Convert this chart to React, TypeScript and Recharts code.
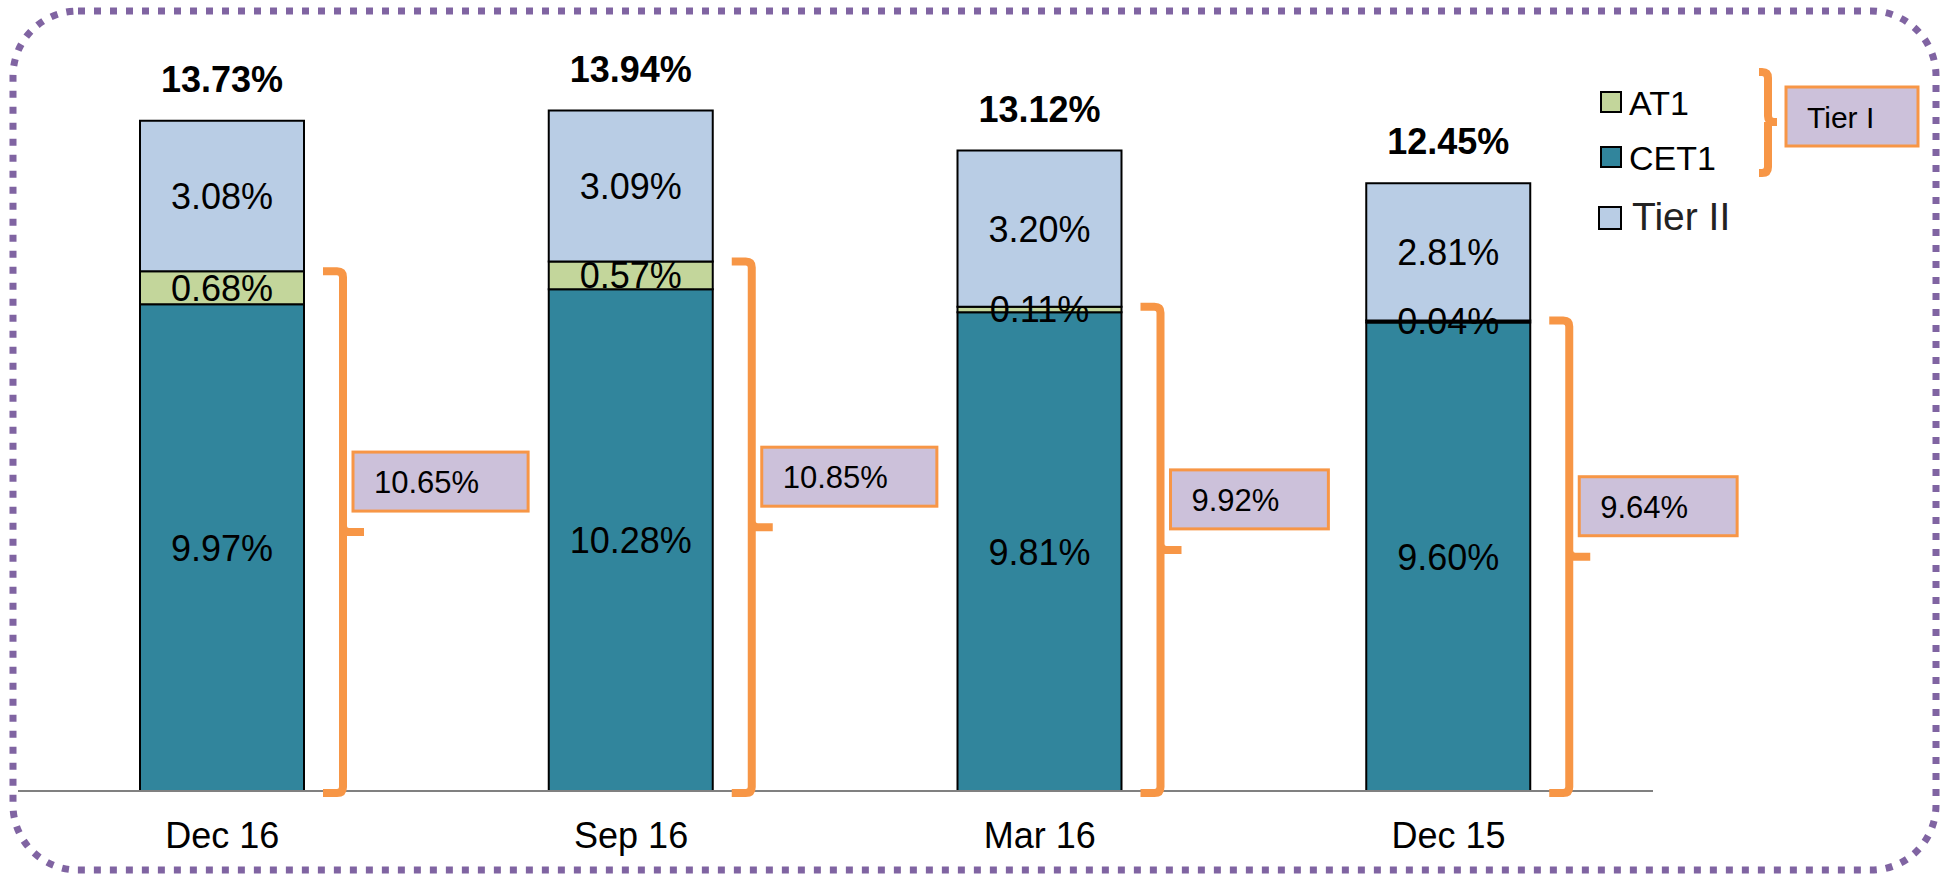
import React from 'react';
import { BarChart, Bar, XAxis, YAxis, LabelList, Legend } from 'recharts';

const categories = ['Dec 16', 'Sep 16', 'Mar 16', 'Dec 15'];
const cet1 = [9.97, 10.28, 9.81, 9.6];
const at1 = [0.68, 0.57, 0.11, 0.04];
const tier2 = [3.08, 3.09, 3.2, 2.81];

const legendOrder = ['AT1', 'CET1', 'Tier II'];

const COLORS: Record<string, string> = {
  CET1: '#31859C',
  AT1: '#C3D69B',
  'Tier II': '#B9CDE5',
};
const ORANGE = '#F79646';
const FONT = '"Liberation Sans", Arial, sans-serif';

const data = categories.map((name, i) => ({
  name,
  CET1: cet1[i],
  AT1: at1[i],
  'Tier II': tier2[i],
}));

const pct = (v: number) => `${v.toFixed(2)}%`;

// rough Arial widths, used to size the Tier I boxes
const textWidth = (s: string, size: number) =>
  s.split('').reduce((w, c) => w + (c === '.' ? 0.278 : c === '%' ? 0.889 : 0.556), 0) * size;

const getBox = (props: any) => {
  const vb = props.viewBox ?? props;
  return { x: +vb.x, y: +vb.y, width: +vb.width, height: +vb.height };
};

const CenterLabel = (props: any) => {
  const { x, y, width, height } = getBox(props);
  return (
    <text
      x={x + width / 2}
      y={y + height / 2}
      dy="0.36em"
      textAnchor="middle"
      fontSize={36}
      fontFamily={FONT}
      fill="#000"
    >
      {pct(Number(props.value))}
    </text>
  );
};

const TotalLabel = (props: any) => {
  const { x, y, width } = getBox(props);
  const i = props.index;
  return (
    <text
      x={x + width / 2}
      y={y - 29}
      textAnchor="middle"
      fontSize={36}
      fontWeight="bold"
      fontFamily={FONT}
      fill="#000"
    >
      {pct(cet1[i] + at1[i] + tier2[i])}
    </text>
  );
};

// "}" bracket spanning CET1 + AT1 with a Tier I value box
const TierOneBracket = (props: any) => {
  const { x, y, width, height } = getBox(props);
  const i = props.index;
  const perUnit = height / cet1[i];
  const top = y - at1[i] * perUnit;
  const bottom = y + height + 2;
  const bx = x + width + 39;
  const mid = (top + bottom) / 2;
  const label = pct(cet1[i] + at1[i]);
  const boxW = textWidth(label, 31) + 70;
  const boxX = bx + 10;
  const boxY = mid - 80;
  return (
    <g>
      <path
        d={`M${bx - 20},${top} L${bx - 6},${top} Q${bx},${top} ${bx},${top + 6} L${bx},${bottom - 6} Q${bx},${bottom} ${bx - 6},${bottom} L${bx - 20},${bottom} M${bx},${mid - 6} Q${bx},${mid} ${bx + 6},${mid} L${bx + 21},${mid}`}
        fill="none"
        stroke={ORANGE}
        strokeWidth={8}
      />
      <rect x={boxX} y={boxY} width={boxW} height={59} fill="#CCC1DA" stroke={ORANGE} strokeWidth={3} />
      <text x={boxX + 21} y={boxY + 41} fontSize={31} fontFamily={FONT} fill="#000">
        {label}
      </text>
    </g>
  );
};

const LegendContent = () => {
  const rows = [
    { sq: [11, 32, 20], tx: [39, 55], size: 34 },
    { sq: [11, 87, 20], tx: [39, 110], size: 34 },
    { sq: [9, 147, 22], tx: [42, 170], size: 39 },
  ];
  return (
    <svg width={340} height={180} style={{ display: 'block' }}>
      {legendOrder.map((key, i) => {
        const r = rows[i];
        return (
          <g key={key}>
            <rect x={r.sq[0]} y={r.sq[1]} width={r.sq[2]} height={r.sq[2]} fill={COLORS[key]} stroke="#000" strokeWidth={2} />
            <text x={r.tx[0]} y={r.tx[1]} fontSize={r.size} fontFamily={FONT} fill={key === 'Tier II' ? '#222' : '#000'}>
              {key}
            </text>
          </g>
        );
      })}
      <path
        d="M169,12 L172,12 Q178,12 178,18 L178,56 Q178,62 184,62 L187,62 M178,62 L178,107 Q178,113 172,113 L169,113"
        fill="none"
        stroke={ORANGE}
        strokeWidth={8}
      />
      <rect x={196} y={27} width={132} height={59} fill="#CCC1DA" stroke={ORANGE} strokeWidth={3} />
      <text x={217} y={68} fontSize={30} fontFamily={FONT} fill="#000">
        Tier I
      </text>
    </svg>
  );
};

export default function App() {
  return (
    <div style={{ position: 'absolute', left: 0, top: 0, width: 1952, height: 874, background: '#fff' }}>
      <BarChart
        width={1952}
        height={874}
        data={data}
        margin={{ top: 10, right: 299, bottom: 0, left: 18 }}
        style={{ fontFamily: FONT }}
      >
        <XAxis
          dataKey="name"
          height={83}
          tickLine={false}
          tickSize={0}
          tickMargin={31}
          axisLine={{ stroke: '#808080', strokeWidth: 2 }}
          tick={{ fontSize: 36, fill: '#000', fontFamily: FONT }}
        />
        <YAxis hide domain={[0, 16]} />
        <Legend
          layout="vertical"
          align="center"
          verticalAlign="middle"
          content={LegendContent}
          wrapperStyle={{ position: 'absolute', left: 1590, top: 60, width: 340, height: 180 }}
        />
        <Bar dataKey="CET1" stackId="a" barSize={164} fill={COLORS.CET1} stroke="#000" strokeWidth={2} isAnimationActive={false}>
          <LabelList dataKey="CET1" content={CenterLabel} />
          <LabelList dataKey="CET1" content={TierOneBracket} />
        </Bar>
        <Bar dataKey="AT1" stackId="a" barSize={164} fill={COLORS.AT1} stroke="#000" strokeWidth={2} isAnimationActive={false}>
          <LabelList dataKey="AT1" content={CenterLabel} />
        </Bar>
        <Bar dataKey="Tier II" stackId="a" barSize={164} fill={COLORS['Tier II']} stroke="#000" strokeWidth={2} isAnimationActive={false}>
          <LabelList dataKey="Tier II" content={CenterLabel} />
          <LabelList dataKey="Tier II" content={TotalLabel} />
        </Bar>
      </BarChart>
      <svg width={1952} height={874} style={{ position: 'absolute', left: 0, top: 0, pointerEvents: 'none' }}>
        <rect
          x={13}
          y={11}
          width={1923}
          height={859}
          rx={65}
          ry={65}
          fill="none"
          stroke="#8064A2"
          strokeWidth={7}
          strokeDasharray="7 9"
        />
      </svg>
    </div>
  );
}
